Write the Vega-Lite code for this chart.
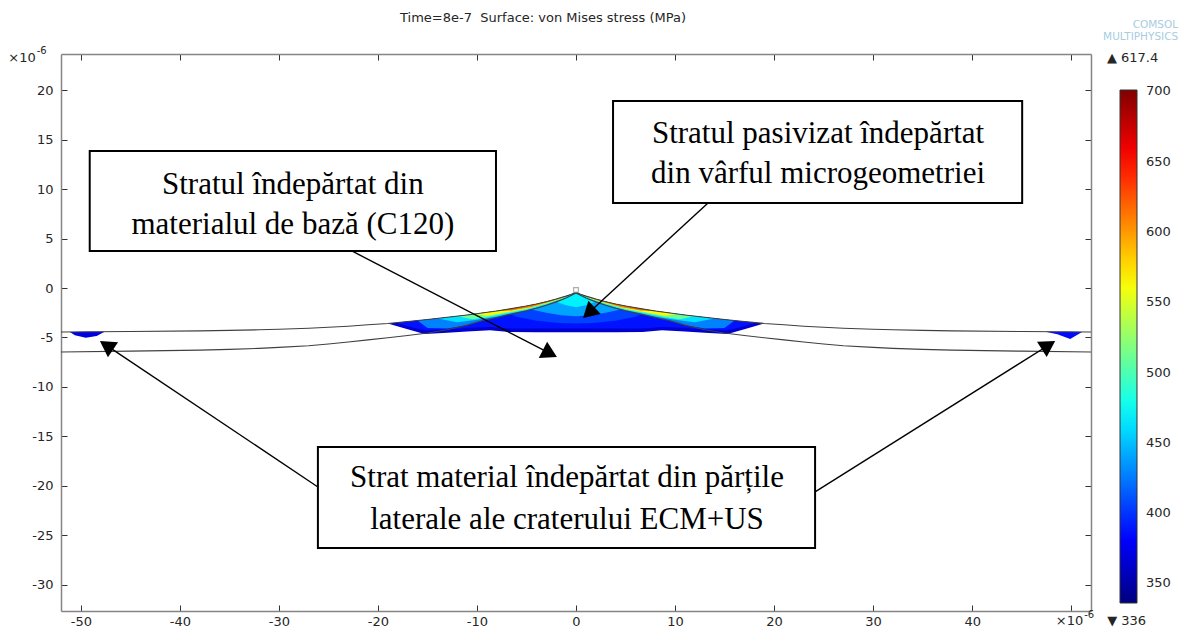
{
  "$schema": "https://vega.github.io/schema/vega-lite/v6.json",
  "width": 1030,
  "height": 557,
  "autosize": {"type": "none"},
  "padding": {"left": 61, "top": 54, "right": 98, "bottom": 19},
  "background": "white",
  "config": {
    "view": {"stroke": null},
    "axis": {
      "domainColor": "#858585",
      "domainWidth": 1.5,
      "tickColor": "#333333",
      "tickWidth": 1,
      "tickSize": -6,
      "labelFont": "DejaVu Sans",
      "labelFontSize": 13,
      "labelColor": "#262626",
      "grid": false,
      "title": null
    }
  },
  "datasets": {
    "stress": [
      {"part": "whole", "v": 365, "x": -19, "y": -3.58, "y2": -3.58},
      {"part": "whole", "v": 365, "x": -17, "y": -3.38, "y2": -4.16},
      {"part": "whole", "v": 365, "x": -15.3, "y": -3.21, "y2": -4.65},
      {"part": "whole", "v": 365, "x": -13, "y": -2.96, "y2": -4.52},
      {"part": "whole", "v": 365, "x": -11, "y": -2.72, "y2": -4.4},
      {"part": "whole", "v": 365, "x": -8.7, "y": -2.41, "y2": -4.28},
      {"part": "whole", "v": 365, "x": -6.7, "y": -2.11, "y2": -4.45},
      {"part": "whole", "v": 365, "x": -4, "y": -1.62, "y2": -4.46},
      {"part": "whole", "v": 365, "x": -2, "y": -1.12, "y2": -4.46},
      {"part": "whole", "v": 365, "x": -1, "y": -0.82, "y2": -4.46},
      {"part": "whole", "v": 365, "x": -0.5, "y": -0.65, "y2": -4.46},
      {"part": "whole", "v": 365, "x": 0, "y": -0.45, "y2": -4.46},
      {"part": "whole", "v": 365, "x": 0.5, "y": -0.65, "y2": -4.46},
      {"part": "whole", "v": 365, "x": 1, "y": -0.82, "y2": -4.46},
      {"part": "whole", "v": 365, "x": 2, "y": -1.12, "y2": -4.46},
      {"part": "whole", "v": 365, "x": 4, "y": -1.62, "y2": -4.46},
      {"part": "whole", "v": 365, "x": 6.7, "y": -2.11, "y2": -4.45},
      {"part": "whole", "v": 365, "x": 8.7, "y": -2.41, "y2": -4.28},
      {"part": "whole", "v": 365, "x": 11, "y": -2.72, "y2": -4.4},
      {"part": "whole", "v": 365, "x": 13, "y": -2.96, "y2": -4.52},
      {"part": "whole", "v": 365, "x": 15.3, "y": -3.21, "y2": -4.65},
      {"part": "whole", "v": 365, "x": 17, "y": -3.38, "y2": -4.16},
      {"part": "whole", "v": 365, "x": 19, "y": -3.58, "y2": -3.58},

      {"part": "core", "v": 388, "x": -18.2, "y": -3.5, "y2": -3.5},
      {"part": "core", "v": 388, "x": -16.5, "y": -3.33, "y2": -4.0},
      {"part": "core", "v": 388, "x": -15.2, "y": -3.2, "y2": -4.3},
      {"part": "core", "v": 388, "x": -13, "y": -2.96, "y2": -4.18},
      {"part": "core", "v": 388, "x": -11, "y": -2.72, "y2": -4.05},
      {"part": "core", "v": 388, "x": -8.7, "y": -2.41, "y2": -3.95},
      {"part": "core", "v": 388, "x": -6.7, "y": -2.11, "y2": -4.08},
      {"part": "core", "v": 388, "x": -4, "y": -1.62, "y2": -4.1},
      {"part": "core", "v": 388, "x": -2, "y": -1.12, "y2": -4.1},
      {"part": "core", "v": 388, "x": -1, "y": -0.82, "y2": -4.1},
      {"part": "core", "v": 388, "x": 0, "y": -0.45, "y2": -4.1},
      {"part": "core", "v": 388, "x": 1, "y": -0.82, "y2": -4.1},
      {"part": "core", "v": 388, "x": 2, "y": -1.12, "y2": -4.1},
      {"part": "core", "v": 388, "x": 4, "y": -1.62, "y2": -4.1},
      {"part": "core", "v": 388, "x": 6.7, "y": -2.11, "y2": -4.08},
      {"part": "core", "v": 388, "x": 8.7, "y": -2.41, "y2": -3.95},
      {"part": "core", "v": 388, "x": 11, "y": -2.72, "y2": -4.05},
      {"part": "core", "v": 388, "x": 13, "y": -2.96, "y2": -4.18},
      {"part": "core", "v": 388, "x": 15.2, "y": -3.2, "y2": -4.3},
      {"part": "core", "v": 388, "x": 16.5, "y": -3.33, "y2": -4.0},
      {"part": "core", "v": 388, "x": 18.2, "y": -3.5, "y2": -3.5},

      {"part": "glow1", "v": 405, "x": -7.5, "y": -2.24, "y2": -2.24},
      {"part": "glow1", "v": 405, "x": -6, "y": -1.99, "y2": -2.9},
      {"part": "glow1", "v": 405, "x": -4, "y": -1.62, "y2": -3.3},
      {"part": "glow1", "v": 405, "x": -2, "y": -1.12, "y2": -3.5},
      {"part": "glow1", "v": 405, "x": -1, "y": -0.82, "y2": -3.55},
      {"part": "glow1", "v": 405, "x": 0, "y": -0.45, "y2": -3.58},
      {"part": "glow1", "v": 405, "x": 1, "y": -0.82, "y2": -3.55},
      {"part": "glow1", "v": 405, "x": 2, "y": -1.12, "y2": -3.5},
      {"part": "glow1", "v": 405, "x": 4, "y": -1.62, "y2": -3.3},
      {"part": "glow1", "v": 405, "x": 6, "y": -1.99, "y2": -2.9},
      {"part": "glow1", "v": 405, "x": 7.5, "y": -2.24, "y2": -2.24},

      {"part": "layer1", "v": 428, "x": -16, "y": -3.28, "y2": -3.28},
      {"part": "layer1", "v": 428, "x": -15, "y": -3.18, "y2": -4.05},
      {"part": "layer1", "v": 428, "x": -13, "y": -2.96, "y2": -4.1},
      {"part": "layer1", "v": 428, "x": -11, "y": -2.72, "y2": -3.75},
      {"part": "layer1", "v": 428, "x": -9.5, "y": -2.52, "y2": -3.3},
      {"part": "layer1", "v": 428, "x": -8, "y": -2.32, "y2": -2.98},
      {"part": "layer1", "v": 428, "x": -6.5, "y": -2.08, "y2": -2.62},
      {"part": "layer1", "v": 428, "x": -5, "y": -1.82, "y2": -2.3},
      {"part": "layer1", "v": 428, "x": -4, "y": -1.62, "y2": -2.05},
      {"part": "layer1", "v": 428, "x": -3, "y": -1.38, "y2": -1.75},
      {"part": "layer1", "v": 428, "x": -2, "y": -1.12, "y2": -1.4},
      {"part": "layer1", "v": 428, "x": -1, "y": -0.82, "y2": -1.0},
      {"part": "layer1", "v": 428, "x": -0.5, "y": -0.65, "y2": -0.75},
      {"part": "layer1", "v": 428, "x": 0, "y": -0.45, "y2": -0.55},
      {"part": "layer1", "v": 428, "x": 0.5, "y": -0.65, "y2": -0.75},
      {"part": "layer1", "v": 428, "x": 1, "y": -0.82, "y2": -1.0},
      {"part": "layer1", "v": 428, "x": 2, "y": -1.12, "y2": -1.4},
      {"part": "layer1", "v": 428, "x": 3, "y": -1.38, "y2": -1.75},
      {"part": "layer1", "v": 428, "x": 4, "y": -1.62, "y2": -2.05},
      {"part": "layer1", "v": 428, "x": 5, "y": -1.82, "y2": -2.3},
      {"part": "layer1", "v": 428, "x": 6.5, "y": -2.08, "y2": -2.62},
      {"part": "layer1", "v": 428, "x": 8, "y": -2.32, "y2": -2.98},
      {"part": "layer1", "v": 428, "x": 9.5, "y": -2.52, "y2": -3.3},
      {"part": "layer1", "v": 428, "x": 11, "y": -2.72, "y2": -3.75},
      {"part": "layer1", "v": 428, "x": 13, "y": -2.96, "y2": -4.1},
      {"part": "layer1", "v": 428, "x": 15, "y": -3.18, "y2": -4.05},
      {"part": "layer1", "v": 428, "x": 16, "y": -3.28, "y2": -3.28},

      {"part": "glow2", "v": 440, "x": -4.5, "y": -2.17, "y2": -2.17},
      {"part": "glow2", "v": 440, "x": -3, "y": -1.75, "y2": -2.5},
      {"part": "glow2", "v": 440, "x": -1.5, "y": -1.2, "y2": -2.75},
      {"part": "glow2", "v": 440, "x": 0, "y": -0.55, "y2": -2.85},
      {"part": "glow2", "v": 440, "x": 1.5, "y": -1.2, "y2": -2.75},
      {"part": "glow2", "v": 440, "x": 3, "y": -1.75, "y2": -2.5},
      {"part": "glow2", "v": 440, "x": 4.5, "y": -2.17, "y2": -2.17},

      {"part": "layer2", "v": 462, "x": -14, "y": -3.07, "y2": -3.07},
      {"part": "layer2", "v": 462, "x": -12, "y": -2.84, "y2": -3.45},
      {"part": "layer2", "v": 462, "x": -10, "y": -2.59, "y2": -3.2},
      {"part": "layer2", "v": 462, "x": -8, "y": -2.32, "y2": -2.88},
      {"part": "layer2", "v": 462, "x": -6.5, "y": -2.08, "y2": -2.55},
      {"part": "layer2", "v": 462, "x": -5, "y": -1.82, "y2": -2.25},
      {"part": "layer2", "v": 462, "x": -3, "y": -1.38, "y2": -1.72},
      {"part": "layer2", "v": 462, "x": -2, "y": -1.12, "y2": -1.38},
      {"part": "layer2", "v": 462, "x": -1, "y": -0.82, "y2": -0.98},
      {"part": "layer2", "v": 462, "x": 0, "y": -0.45, "y2": -0.55},
      {"part": "layer2", "v": 462, "x": 1, "y": -0.82, "y2": -0.98},
      {"part": "layer2", "v": 462, "x": 2, "y": -1.12, "y2": -1.38},
      {"part": "layer2", "v": 462, "x": 3, "y": -1.38, "y2": -1.72},
      {"part": "layer2", "v": 462, "x": 5, "y": -1.82, "y2": -2.25},
      {"part": "layer2", "v": 462, "x": 6.5, "y": -2.08, "y2": -2.55},
      {"part": "layer2", "v": 462, "x": 8, "y": -2.32, "y2": -2.88},
      {"part": "layer2", "v": 462, "x": 10, "y": -2.59, "y2": -3.2},
      {"part": "layer2", "v": 462, "x": 12, "y": -2.84, "y2": -3.45},
      {"part": "layer2", "v": 462, "x": 14, "y": -3.07, "y2": -3.07},

      {"part": "glow3", "v": 468, "x": -2, "y": -1.12, "y2": -1.4},
      {"part": "glow3", "v": 468, "x": -1, "y": -0.82, "y2": -1.75},
      {"part": "glow3", "v": 468, "x": 0, "y": -0.45, "y2": -1.95},
      {"part": "glow3", "v": 468, "x": 1, "y": -0.82, "y2": -1.75},
      {"part": "glow3", "v": 468, "x": 2, "y": -1.12, "y2": -1.4},

      {"part": "green-left", "v": 510, "x": -12, "y": -2.84, "y2": -2.84},
      {"part": "green-left", "v": 510, "x": -10.5, "y": -2.65, "y2": -3.15},
      {"part": "green-left", "v": 510, "x": -9, "y": -2.45, "y2": -2.95},
      {"part": "green-left", "v": 510, "x": -7, "y": -2.16, "y2": -2.56},
      {"part": "green-left", "v": 510, "x": -5, "y": -1.82, "y2": -2.16},
      {"part": "green-left", "v": 510, "x": -3, "y": -1.38, "y2": -1.62},
      {"part": "green-left", "v": 510, "x": -1.5, "y": -0.97, "y2": -1.1},
      {"part": "green-left", "v": 510, "x": -0.8, "y": -0.75, "y2": -0.75},
      {"part": "green-right", "v": 510, "x": 0.8, "y": -0.75, "y2": -0.75},
      {"part": "green-right", "v": 510, "x": 1.5, "y": -0.97, "y2": -1.1},
      {"part": "green-right", "v": 510, "x": 3, "y": -1.38, "y2": -1.62},
      {"part": "green-right", "v": 510, "x": 5, "y": -1.82, "y2": -2.16},
      {"part": "green-right", "v": 510, "x": 7, "y": -2.16, "y2": -2.56},
      {"part": "green-right", "v": 510, "x": 9, "y": -2.45, "y2": -2.95},
      {"part": "green-right", "v": 510, "x": 10.5, "y": -2.65, "y2": -3.15},
      {"part": "green-right", "v": 510, "x": 12, "y": -2.84, "y2": -2.84},

      {"part": "yellow-left", "v": 565, "x": -10.3, "y": -2.63, "y2": -2.63},
      {"part": "yellow-left", "v": 565, "x": -9, "y": -2.45, "y2": -2.8},
      {"part": "yellow-left", "v": 565, "x": -7, "y": -2.16, "y2": -2.45},
      {"part": "yellow-left", "v": 565, "x": -5, "y": -1.82, "y2": -2.07},
      {"part": "yellow-left", "v": 565, "x": -3, "y": -1.38, "y2": -1.55},
      {"part": "yellow-left", "v": 565, "x": -1.5, "y": -0.97, "y2": -1.05},
      {"part": "yellow-left", "v": 565, "x": -0.8, "y": -0.75, "y2": -0.75},
      {"part": "yellow-right", "v": 565, "x": 0.8, "y": -0.75, "y2": -0.75},
      {"part": "yellow-right", "v": 565, "x": 1.5, "y": -0.97, "y2": -1.05},
      {"part": "yellow-right", "v": 565, "x": 3, "y": -1.38, "y2": -1.55},
      {"part": "yellow-right", "v": 565, "x": 5, "y": -1.82, "y2": -2.07},
      {"part": "yellow-right", "v": 565, "x": 7, "y": -2.16, "y2": -2.45},
      {"part": "yellow-right", "v": 565, "x": 9, "y": -2.45, "y2": -2.8},
      {"part": "yellow-right", "v": 565, "x": 10.3, "y": -2.63, "y2": -2.63},

      {"part": "orange-left", "v": 612, "x": -8, "y": -2.32, "y2": -2.32},
      {"part": "orange-left", "v": 612, "x": -6.5, "y": -2.08, "y2": -2.27},
      {"part": "orange-left", "v": 612, "x": -4.5, "y": -1.72, "y2": -1.92},
      {"part": "orange-left", "v": 612, "x": -3, "y": -1.38, "y2": -1.5},
      {"part": "orange-left", "v": 612, "x": -2, "y": -1.12, "y2": -1.2},
      {"part": "orange-left", "v": 612, "x": -1, "y": -0.82, "y2": -0.82},
      {"part": "orange-right", "v": 612, "x": 1, "y": -0.82, "y2": -0.82},
      {"part": "orange-right", "v": 612, "x": 2, "y": -1.12, "y2": -1.2},
      {"part": "orange-right", "v": 612, "x": 3, "y": -1.38, "y2": -1.5},
      {"part": "orange-right", "v": 612, "x": 4.5, "y": -1.72, "y2": -1.92},
      {"part": "orange-right", "v": 612, "x": 6.5, "y": -2.08, "y2": -2.27},
      {"part": "orange-right", "v": 612, "x": 8, "y": -2.32, "y2": -2.32},

      {"part": "side-left", "v": 372, "x": -51.1, "y": -4.44, "y2": -4.44},
      {"part": "side-left", "v": 372, "x": -50.6, "y": -4.44, "y2": -4.78},
      {"part": "side-left", "v": 372, "x": -49.5, "y": -4.43, "y2": -5.02},
      {"part": "side-left", "v": 372, "x": -48.4, "y": -4.43, "y2": -4.85},
      {"part": "side-left", "v": 372, "x": -47.6, "y": -4.42, "y2": -4.42},
      {"part": "side-right", "v": 385, "x": 47.4, "y": -4.42, "y2": -4.42},
      {"part": "side-right", "v": 385, "x": 48.6, "y": -4.43, "y2": -4.66},
      {"part": "side-right", "v": 385, "x": 49.9, "y": -4.43, "y2": -5.15},
      {"part": "side-right", "v": 385, "x": 51.1, "y": -4.44, "y2": -4.44}
    ],
    "surfaces": [
      {"curve": "outer", "x": -52, "y": -4.44}, {"curve": "outer", "x": -45, "y": -4.4},
      {"curve": "outer", "x": -38, "y": -4.33}, {"curve": "outer", "x": -35, "y": -4.28},
      {"curve": "outer", "x": -32, "y": -4.22}, {"curve": "outer", "x": -30, "y": -4.16},
      {"curve": "outer", "x": -27, "y": -4.06}, {"curve": "outer", "x": -25, "y": -3.97},
      {"curve": "outer", "x": -23, "y": -3.86}, {"curve": "outer", "x": -21, "y": -3.71},
      {"curve": "outer", "x": -19, "y": -3.58}, {"curve": "outer", "x": -17, "y": -3.38},
      {"curve": "outer", "x": -15, "y": -3.18}, {"curve": "outer", "x": -13, "y": -2.96},
      {"curve": "outer", "x": -11, "y": -2.72}, {"curve": "outer", "x": -9.5, "y": -2.52},
      {"curve": "outer", "x": -8, "y": -2.32}, {"curve": "outer", "x": -6.5, "y": -2.08},
      {"curve": "outer", "x": -5, "y": -1.82}, {"curve": "outer", "x": -4, "y": -1.62},
      {"curve": "outer", "x": -3, "y": -1.38}, {"curve": "outer", "x": -2, "y": -1.12},
      {"curve": "outer", "x": -1, "y": -0.82}, {"curve": "outer", "x": -0.5, "y": -0.65},
      {"curve": "outer", "x": 0, "y": -0.45}, {"curve": "outer", "x": 0.5, "y": -0.65},
      {"curve": "outer", "x": 1, "y": -0.82}, {"curve": "outer", "x": 2, "y": -1.12},
      {"curve": "outer", "x": 3, "y": -1.38}, {"curve": "outer", "x": 4, "y": -1.62},
      {"curve": "outer", "x": 5, "y": -1.82}, {"curve": "outer", "x": 6.5, "y": -2.08},
      {"curve": "outer", "x": 8, "y": -2.32}, {"curve": "outer", "x": 9.5, "y": -2.52},
      {"curve": "outer", "x": 11, "y": -2.72}, {"curve": "outer", "x": 13, "y": -2.96},
      {"curve": "outer", "x": 15, "y": -3.18}, {"curve": "outer", "x": 17, "y": -3.38},
      {"curve": "outer", "x": 19, "y": -3.58}, {"curve": "outer", "x": 21, "y": -3.71},
      {"curve": "outer", "x": 23, "y": -3.86}, {"curve": "outer", "x": 25, "y": -3.97},
      {"curve": "outer", "x": 27, "y": -4.06}, {"curve": "outer", "x": 30, "y": -4.16},
      {"curve": "outer", "x": 32, "y": -4.22}, {"curve": "outer", "x": 35, "y": -4.28},
      {"curve": "outer", "x": 38, "y": -4.33}, {"curve": "outer", "x": 45, "y": -4.4},
      {"curve": "outer", "x": 52, "y": -4.44},

      {"curve": "inner", "x": -52, "y": -6.46}, {"curve": "inner", "x": -45, "y": -6.38},
      {"curve": "inner", "x": -38, "y": -6.28}, {"curve": "inner", "x": -35, "y": -6.2},
      {"curve": "inner", "x": -32, "y": -6.1}, {"curve": "inner", "x": -30, "y": -6.0},
      {"curve": "inner", "x": -27, "y": -5.84}, {"curve": "inner", "x": -25, "y": -5.66},
      {"curve": "inner", "x": -23, "y": -5.46}, {"curve": "inner", "x": -21, "y": -5.24},
      {"curve": "inner", "x": -19, "y": -5.03}, {"curve": "inner", "x": -17, "y": -4.8},
      {"curve": "inner", "x": -15, "y": -4.55}, {"curve": "inner", "x": -13, "y": -4.22},
      {"curve": "inner", "x": -11, "y": -3.75}, {"curve": "inner", "x": -9.5, "y": -3.3},
      {"curve": "inner", "x": -8, "y": -2.98}, {"curve": "inner", "x": -6.5, "y": -2.62},
      {"curve": "inner", "x": -5, "y": -2.3}, {"curve": "inner", "x": -4, "y": -2.05},
      {"curve": "inner", "x": -3, "y": -1.75}, {"curve": "inner", "x": -2, "y": -1.4},
      {"curve": "inner", "x": -1, "y": -1.0}, {"curve": "inner", "x": -0.5, "y": -0.75},
      {"curve": "inner", "x": 0, "y": -0.5}, {"curve": "inner", "x": 0.5, "y": -0.75},
      {"curve": "inner", "x": 1, "y": -1.0}, {"curve": "inner", "x": 2, "y": -1.4},
      {"curve": "inner", "x": 3, "y": -1.75}, {"curve": "inner", "x": 4, "y": -2.05},
      {"curve": "inner", "x": 5, "y": -2.3}, {"curve": "inner", "x": 6.5, "y": -2.62},
      {"curve": "inner", "x": 8, "y": -2.98}, {"curve": "inner", "x": 9.5, "y": -3.3},
      {"curve": "inner", "x": 11, "y": -3.75}, {"curve": "inner", "x": 13, "y": -4.22},
      {"curve": "inner", "x": 15, "y": -4.55}, {"curve": "inner", "x": 17, "y": -4.8},
      {"curve": "inner", "x": 19, "y": -5.03}, {"curve": "inner", "x": 21, "y": -5.24},
      {"curve": "inner", "x": 23, "y": -5.46}, {"curve": "inner", "x": 25, "y": -5.66},
      {"curve": "inner", "x": 27, "y": -5.84}, {"curve": "inner", "x": 30, "y": -6.0},
      {"curve": "inner", "x": 32, "y": -6.1}, {"curve": "inner", "x": 35, "y": -6.2},
      {"curve": "inner", "x": 38, "y": -6.28}, {"curve": "inner", "x": 45, "y": -6.38},
      {"curve": "inner", "x": 52, "y": -6.46}
    ],
    "tip": [{"x": 0, "y": -0.2}],
    "boxes": [
      {"x": -49.1, "x2": -8.08, "y": 13.84, "y2": 3.74},
      {"x": 3.74, "x2": 45.05, "y": 18.89, "y2": 8.59},
      {"x": -26.06, "x2": 24.14, "y": -16.06, "y2": -26.26}
    ],
    "captions": [
      {"x": -28.59, "y": 10.4, "text": "Stratul îndepărtat din"},
      {"x": -28.59, "y": 6.36, "text": "materialul de bază (C120)"},
      {"x": 24.44, "y": 15.56, "text": "Stratul pasivizat îndepărtat"},
      {"x": 24.44, "y": 11.52, "text": "din vârful microgeometriei"},
      {"x": -0.91, "y": -19.19, "text": "Strat material îndepărtat din părțile"},
      {"x": -0.91, "y": -23.43, "text": "laterale ale craterului ECM+US"}
    ],
    "arrows": [
      {"x": -22.63, "y": 3.74, "x2": -2.63, "y2": -6.61},
      {"x": 13.33, "y": 8.59, "x2": 1.29, "y2": -2.49},
      {"x": -26.06, "y": -20.1, "x2": -47.41, "y2": -5.8},
      {"x": 24.14, "y": -20.6, "x2": 47.71, "y2": -5.78}
    ],
    "heads": [
      {"x": -2.63, "y": -6.61, "angle": 117.3},
      {"x": 1.29, "y": -2.49, "angle": 227.4},
      {"x": -47.41, "y": -5.8, "angle": 303.8},
      {"x": 47.71, "y": -5.78, "angle": 57.8}
    ],
    "heading": [
      {"x": -3.33, "y": 27.27, "text": "Time=8e-7\u00a0 Surface: von Mises stress (MPa)"}
    ],
    "extremes": [
      {"x": 56.2, "y": 23.2, "text": "▲ 617.4"},
      {"x": 55.6, "y": -33.64, "text": "▼ 336"}
    ],
    "unitBase": [
      {"x": -54.55, "y": 23.23, "text": "×10"},
      {"x": 51.21, "y": -33.64, "text": "×10"}
    ],
    "unitExp": [
      {"x": -54.45, "y": 23.92, "text": "-6"},
      {"x": 51.31, "y": -33.08, "text": "-6"}
    ],
    "brand": [
      {"x": 60.8, "y": 26.6, "text": "COMSOL"},
      {"x": 60.8, "y": 25.35, "text": "MULTIPHYSICS"}
    ]
  },
  "layer": [
    {
      "encoding": {
        "x": {
          "field": "x", "type": "quantitative",
          "scale": {"domain": [-52, 52], "nice": false, "zero": false},
          "axis": {"orient": "bottom", "values": [-50, -40, -30, -20, -10, 0, 10, 20, 30, 40, 50], "labelExpr": "datum.value == 50 ? '' : '' + datum.value", "labelPadding": 10}
        },
        "y": {
          "field": "y", "type": "quantitative",
          "scale": {"domain": [-32.63, 23.64], "nice": false, "zero": false},
          "axis": {"orient": "left", "values": [-30, -25, -20, -15, -10, -5, 0, 5, 10, 15, 20], "labelExpr": "'' + datum.value", "labelPadding": 14}
        }
      },
      "layer": [
        {
          "data": {"name": "stress"},
          "mark": {"type": "area", "interpolate": "linear", "opacity": 1},
          "encoding": {
            "y2": {"field": "y2"},
            "detail": {"field": "part", "type": "nominal"},
            "color": {
              "field": "v", "type": "quantitative",
              "scale": {
                "domain": [336, 381.5, 472.5, 563.5, 654.5, 701],
                "range": ["#000080", "#0000ff", "#00ffff", "#ffff00", "#ff0000", "#800000"],
                "interpolate": "rgb"
              },
              "legend": {
                "orient": "none", "legendX": 1059, "legendY": 36, "direction": "vertical",
                "title": null, "gradientLength": 513, "gradientThickness": 17,
                "gradientStrokeColor": "#333333", "gradientStrokeWidth": 1,
                "values": [350, 400, 450, 500, 550, 600, 650, 700],
                "labelOffset": 9, "labelFont": "DejaVu Sans", "labelFontSize": 13, "labelColor": "#262626"
              }
            }
          }
        },
        {
          "data": {"name": "surfaces"},
          "mark": {"type": "line", "color": "#404040", "strokeWidth": 1.1},
          "encoding": {"detail": {"field": "curve", "type": "nominal"}}
        },
        {
          "data": {"name": "tip"},
          "mark": {"type": "point", "shape": "square", "size": 22, "filled": false, "color": "#8a8a8a", "strokeWidth": 1.2}
        },
        {
          "data": {"name": "boxes"},
          "mark": {"type": "rect", "fill": "white", "stroke": "black", "strokeWidth": 2},
          "encoding": {"x2": {"field": "x2"}, "y2": {"field": "y2"}}
        },
        {
          "data": {"name": "captions"},
          "mark": {"type": "text", "font": "Liberation Serif", "fontSize": 31, "color": "black", "align": "center", "baseline": "middle"},
          "encoding": {"text": {"field": "text", "type": "nominal"}}
        },
        {
          "data": {"name": "arrows"},
          "mark": {"type": "rule", "color": "black", "strokeWidth": 1.4},
          "encoding": {"x2": {"field": "x2"}, "y2": {"field": "y2"}}
        },
        {
          "data": {"name": "heads"},
          "mark": {"type": "point", "shape": "triangle-up", "size": 330, "filled": true, "color": "black", "opacity": 1},
          "encoding": {"angle": {"field": "angle", "type": "quantitative", "scale": null}}
        },
        {
          "data": {"name": "heading"},
          "mark": {"type": "text", "font": "DejaVu Sans", "fontSize": 13, "color": "#262626", "align": "center", "baseline": "middle"},
          "encoding": {"text": {"field": "text", "type": "nominal"}}
        },
        {
          "data": {"name": "extremes"},
          "mark": {"type": "text", "font": "DejaVu Sans", "fontSize": 13, "color": "#262626", "align": "center", "baseline": "middle"},
          "encoding": {"text": {"field": "text", "type": "nominal"}}
        },
        {
          "data": {"name": "unitBase"},
          "mark": {"type": "text", "font": "DejaVu Sans", "fontSize": 13, "color": "#262626", "align": "right", "baseline": "middle"},
          "encoding": {"text": {"field": "text", "type": "nominal"}}
        },
        {
          "data": {"name": "unitExp"},
          "mark": {"type": "text", "font": "DejaVu Sans", "fontSize": 10, "color": "#262626", "align": "left", "baseline": "middle"},
          "encoding": {"text": {"field": "text", "type": "nominal"}}
        },
        {
          "data": {"name": "brand"},
          "mark": {"type": "text", "font": "DejaVu Sans", "fontSize": 10.5, "color": "#a6cde0", "align": "right", "baseline": "middle"},
          "encoding": {"text": {"field": "text", "type": "nominal"}}
        }
      ]
    },
    {
      "data": {"name": "tip"},
      "mark": {"type": "point", "opacity": 0},
      "encoding": {
        "x": {
          "field": "x", "type": "quantitative",
          "scale": {"domain": [-52, 52], "nice": false, "zero": false},
          "axis": {"orient": "top", "values": [-50, -40, -30, -20, -10, 0, 10, 20, 30, 40, 50], "labels": false}
        },
        "y": {
          "field": "y", "type": "quantitative",
          "scale": {"domain": [-32.63, 23.64], "nice": false, "zero": false},
          "axis": {"orient": "right", "values": [-30, -25, -20, -15, -10, -5, 0, 5, 10, 15, 20], "labels": false}
        }
      }
    }
  ],
  "resolve": {"axis": {"x": "independent", "y": "independent"}}
}
